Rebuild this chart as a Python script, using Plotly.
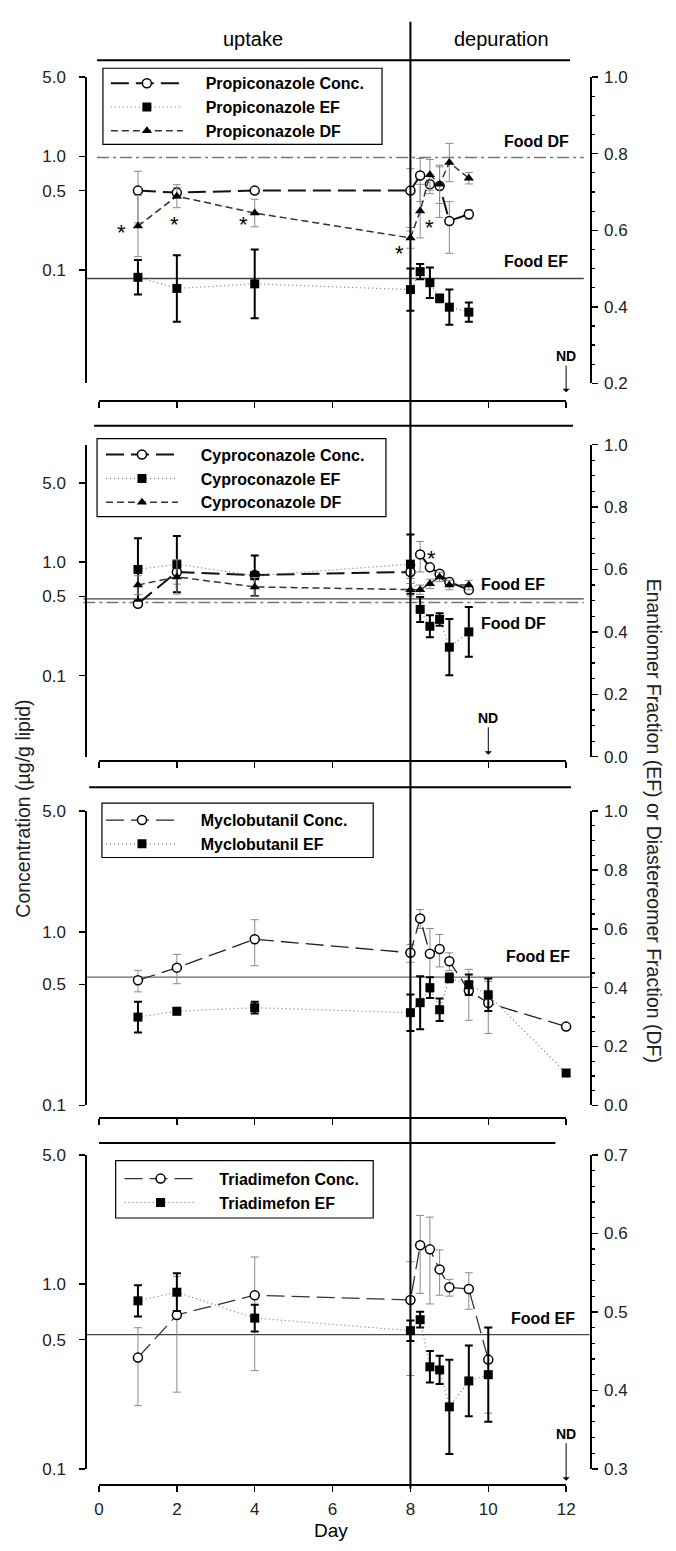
import math
import plotly.graph_objects as go

W, H = 676, 1551
def fx(p): return p / W
def fy(p): return 1 - p / H

FONT = "Liberation Sans, Arial, sans-serif"

# ---------------- data ----------------
# Panel 1: Propiconazole
days_prop = [1, 2, 4, 8, 8.25, 8.5, 8.75, 9, 9.5]
prop_conc = [0.50, 0.48, 0.50, 0.50, 0.68, 0.57, 0.55, 0.27, 0.31]
prop_conc_err = [0.24, 0.05, 0.03, 0.28, 0.28, 0.10, 0.26, 0.13, 0.03]
prop_ef = [0.477, 0.448, 0.46, 0.445, 0.492, 0.463, 0.422, 0.399, 0.386]
prop_ef_err = [0.045, 0.087, 0.09, 0.055, 0.02, 0.04, 0.01, 0.046, 0.025]
prop_df = [0.611, 0.689, 0.645, 0.58, 0.65, 0.745, 0.72, 0.777, 0.736]
prop_df_err = [0.08, 0.03, 0.036, 0.027, 0.07, 0.04, 0.05, 0.05, 0.015]
prop_food_ef = 0.474
prop_food_df = 0.79

# Panel 2: Cyproconazole
days_cypro = [1, 2, 4, 8, 8.25, 8.5, 8.75, 9, 9.5]
cypro_conc = [0.43, 0.82, 0.77, 0.82, 1.17, 0.90, 0.79, 0.67, 0.57]
cypro_conc_err = [0.03, 0.18, 0.05, 0.10, 0.35, 0.05, 0.04, 0.03, 0.03]
cypro_ef = [0.60, 0.617, 0.58, 0.617, 0.472, 0.418, 0.44, 0.351, 0.40]
cypro_ef_err = [0.10, 0.09, 0.065, 0.095, 0.04, 0.035, 0.02, 0.09, 0.08]
cypro_df = [0.55, 0.576, 0.544, 0.535, 0.535, 0.554, 0.576, 0.55, 0.55]
cypro_df_err = [0.03, 0.055, 0.03, 0.02, 0.015, 0.015, 0.015, 0.015, 0.015]
cypro_food_ef = 0.506
cypro_food_df = 0.494

# Panel 3: Myclobutanil
days_myclo = [1, 2, 4, 8, 8.25, 8.5, 8.75, 9, 9.5, 10, 12]
myclo_conc = [0.527, 0.624, 0.91, 0.76, 1.2, 0.75, 0.80, 0.68, 0.46, 0.39, 0.285]
myclo_conc_err = [0.075, 0.12, 0.27, 0.09, 0.15, 0.3, 0.17, 0.08, 0.15, 0.13, 0]
myclo_ef = [0.30, 0.32, 0.332, 0.315, 0.349, 0.40, 0.325, 0.433, 0.41, 0.376, 0.11]
myclo_ef_err = [0.052, 0.01, 0.02, 0.062, 0.09, 0.035, 0.038, 0.015, 0.035, 0.055, 0.01]
myclo_food_ef = 0.436

# Panel 4: Triadimefon
days_triad = [1, 2, 4, 8, 8.25, 8.5, 8.75, 9, 9.5, 10]
triad_conc = [0.40, 0.68, 0.87, 0.82, 1.62, 1.54, 1.20, 0.96, 0.94, 0.39]
triad_conc_err = [0.18, 0.42, 0.53, 0.5, 0.73, 0.76, 0.33, 0.1, 0.21, 0.19]
triad_ef = [0.514, 0.525, 0.492, 0.476, 0.49, 0.43, 0.426, 0.379, 0.412, 0.42]
triad_ef_err = [0.02, 0.024, 0.017, 0.013, 0.01, 0.02, 0.018, 0.06, 0.045, 0.06]
triad_food_ef = 0.471

conc_ticks = [0.1, 0.5, 1, 5]
conc_ticktext = ["0.1", "0.5", "1.0", "5.0"]
x_ticks = [0, 2, 4, 6, 8, 10, 12]

PAD = "\u00a0\u00a0\u00a0\u00a0"

# ---------------- traces ----------------
fig = go.Figure()

def conc_trace(name, days, vals, err, xa, ya, leg, lw=2.0, lc="#111"):
    return go.Scatter(
        x=days, y=vals, xaxis=xa, yaxis=ya, name=PAD + name, legend=leg,
        mode="lines+markers", cliponaxis=False,
        line=dict(color=lc, width=lw, dash="18px,7px"),
        marker=dict(symbol="circle", size=9, color="white",
                    line=dict(color="black", width=1.5)),
        error_y=dict(type="data", array=err, color="#8a8a8a", thickness=1, width=4),
    )

def ef_trace(name, days, vals, err, xa, ya, leg):
    return go.Scatter(
        x=days, y=vals, xaxis=xa, yaxis=ya, name=PAD + name, legend=leg,
        mode="lines+markers", cliponaxis=False,
        line=dict(color="#777", width=1.2, dash="1px,3px"),
        marker=dict(symbol="square", size=9, color="black"),
        error_y=dict(type="data", array=err, color="black", thickness=2, width=4),
    )

def df_trace(name, days, vals, err, xa, ya, leg):
    return go.Scatter(
        x=days, y=vals, xaxis=xa, yaxis=ya, name=PAD + name, legend=leg,
        mode="lines+markers", cliponaxis=False,
        line=dict(color="#333", width=1.5, dash="7px,4px"),
        marker=dict(symbol="triangle-up", size=9, color="black"),
        error_y=dict(type="data", array=err, color="#8a8a8a", thickness=1, width=4),
    )

fig.add_trace(conc_trace("Propiconazole Conc.", days_prop, prop_conc, prop_conc_err, "x", "y", "legend"))
fig.add_trace(ef_trace("Propiconazole EF", days_prop, prop_ef, prop_ef_err, "x", "y2", "legend"))
fig.add_trace(df_trace("Propiconazole DF", days_prop, prop_df, prop_df_err, "x", "y2", "legend"))

fig.add_trace(conc_trace("Cyproconazole Conc.", days_cypro, cypro_conc, cypro_conc_err, "x2", "y3", "legend2"))
fig.add_trace(ef_trace("Cyproconazole EF", days_cypro, cypro_ef, cypro_ef_err, "x2", "y4", "legend2"))
fig.add_trace(df_trace("Cyproconazole DF", days_cypro, cypro_df, cypro_df_err, "x2", "y4", "legend2"))

fig.add_trace(conc_trace("Myclobutanil Conc.", days_myclo, myclo_conc, myclo_conc_err, "x3", "y5", "legend3", lw=1.3, lc="#222"))
fig.add_trace(ef_trace("Myclobutanil EF", days_myclo, myclo_ef, myclo_ef_err, "x3", "y6", "legend3"))

fig.add_trace(conc_trace("Triadimefon Conc.", days_triad, triad_conc, triad_conc_err, "x4", "y7", "legend4", lw=1.3, lc="#333"))
fig.add_trace(ef_trace("Triadimefon EF", days_triad, triad_ef, triad_ef_err, "x4", "y8", "legend4"))

# ---------------- axes ----------------
L5 = math.log10(5)

panels = [
    dict(xpos=397, top=69, bot=379, lr=[-2, L5], rr=[0.2, 1.0], rd=0.2, rm=0.05, lab=False),
    dict(xpos=761, top=441, bot=757, lr=[-1.713, 1.035], rr=[0.0, 1.0], rd=0.2, rm=0.05, lab=False),
    dict(xpos=1123, top=812, bot=1110, lr=[-1, L5], rr=[0.0, 1.0], rd=0.2, rm=0.05, lab=False),
    dict(xpos=1494, top=1160, bot=1478, lr=[-1, L5], rr=[0.3, 0.7], rd=0.1, rm=0.02, lab=True),
]

tickfont = dict(size=17, color="#222", family=FONT)
layout_axes = {}
for i, p in enumerate(panels):
    xk = "xaxis" if i == 0 else f"xaxis{i+1}"
    lk = "yaxis" if i == 0 else f"yaxis{2*i+1}"
    rk = f"yaxis{2*i+2}"
    lname = "y" if i == 0 else f"y{2*i+1}"
    layout_axes[xk] = dict(
        domain=[fx(96), fx(573)], range=[0, 12], anchor="free", position=fy(p["xpos"]),
        showline=True, linecolor="black", linewidth=2, ticks="outside", ticklen=6,
        tickwidth=1.5, tickcolor="black", tickvals=x_ticks, showgrid=False, zeroline=False,
        showticklabels=p["lab"], tickfont=tickfont, ticklabelstandoff=3,
    )
    layout_axes[lk] = dict(
        domain=[fy(p["bot"]), fy(p["top"])], type="log", range=p["lr"], anchor="free",
        position=fx(83), side="left", showline=True, linecolor="black", linewidth=2,
        ticks="outside", ticklen=6, tickwidth=1.5, tickcolor="black",
        tickvals=conc_ticks, ticktext=conc_ticktext, tickfont=tickfont,
        ticklabelstandoff=10, showgrid=False, zeroline=False,
    )
    layout_axes[rk] = dict(
        overlaying=lname, side="right", anchor="free", position=fx(598),
        range=p["rr"], tick0=0, dtick=p["rd"], tickformat=".1f",
        showline=True, linecolor="black", linewidth=2, ticks="outside", ticklen=6,
        tickwidth=1.5, tickcolor="black", tickfont=tickfont, ticklabelstandoff=3,
        showgrid=False, zeroline=False,
        minor=dict(ticks="outside", dtick=p["rm"], tick0=0, ticklen=3,
                   tickwidth=1.2, tickcolor="black", showgrid=False),
    )

# ---------------- shapes ----------------
shapes = []
def hline_px(x0, x1, y, w=2, color="black"):
    shapes.append(dict(type="line", xref="paper", yref="paper", x0=fx(x0), x1=fx(x1),
                       y0=fy(y), y1=fy(y), line=dict(color=color, width=w)))

hline_px(94, 577, 52)
hline_px(91, 580, 422)
hline_px(86, 578, 788)
hline_px(96, 562, 1148)

shapes.append(dict(type="line", xref="x4", yref="paper", x0=8, x1=8,
                   y0=fy(1498), y1=fy(13), line=dict(color="black", width=2)))

def food_line(yref, val, x0, x1, dash, color, w):
    shapes.append(dict(type="line", xref="paper", yref=yref, x0=fx(x0), x1=fx(x1),
                       y0=val, y1=val, layer="below",
                       line=dict(color=color, width=w, dash=dash)))

food_line("y2", prop_food_ef, 83, 591, "solid", "#444", 1.3)
food_line("y2", prop_food_df, 94, 591, "12px,4px,3px,4px", "#777", 1.5)
food_line("y4", cypro_food_ef, 80, 591, "solid", "#444", 1.3)
food_line("y4", cypro_food_df, 80, 591, "12px,4px,3px,4px", "#777", 1.5)
food_line("y6", myclo_food_ef, 83, 600, "solid", "#666", 1.2)
food_line("y8", triad_food_ef, 83, 597, "solid", "#444", 1.2)

for (x0, y0, x1, y1) in [(100, 60, 385, 137), (94, 435, 389, 514),
                         (99, 804, 376, 859), (113, 1166, 376, 1224)]:
    shapes.append(dict(type="rect", xref="paper", yref="paper",
                       x0=fx(x0), x1=fx(x1), y0=fy(y1), y1=fy(y0),
                       line=dict(color="black", width=1.2), fillcolor="rgba(0,0,0,0)"))

# ---------------- annotations ----------------
ann = []
def text_px(t, x, y, size=19, bold=False, xanchor="center", angle=0, color="black"):
    ann.append(dict(text=t, x=fx(x), y=fy(y), xref="paper", yref="paper",
                    showarrow=False, xanchor=xanchor, yanchor="middle", textangle=angle,
                    font=dict(size=size, family=FONT, color=color,
                              weight="bold" if bold else "normal")))

text_px("uptake", 253, 30, size=20)
text_px("depuration", 507, 30, size=20)
text_px("Day", 333, 1540, size=19)
text_px("Concentration (µg/g lipid)", 18, 810, size=19.5, angle=-90, color="#222")
text_px("Enantiomer Fraction (EF) or Diastereomer Fraction (DF)", 663, 822, size=19.5, angle=90, color="#222")

text_px("Food DF", 508, 134, size=16, bold=True, xanchor="left")
text_px("Food EF", 508, 256, size=16, bold=True, xanchor="left")
text_px("Food EF", 484, 583, size=16, bold=True, xanchor="left")
text_px("Food DF", 484, 622, size=16, bold=True, xanchor="left")
text_px("Food EF", 510, 959, size=16, bold=True, xanchor="left")
text_px("Food EF", 515, 1326, size=16, bold=True, xanchor="left")

def nd(xref, xv, tip_y, ay):
    ann.append(dict(text="<b>ND</b>", xref=xref, x=xv, yref="paper", y=fy(tip_y),
                    showarrow=True, ax=0, ay=ay, arrowhead=1, arrowsize=1.2,
                    arrowwidth=1, arrowcolor="black",
                    font=dict(size=14, family=FONT, color="black")))

nd("x", 12, 388, -36)
nd("x2", 10, 755, -37)
nd("x4", 12, 1490, -47)

def star(xref, yref, xv, yv):
    ann.append(dict(text="*", xref=xref, yref=yref, x=xv, y=yv, showarrow=False,
                    yshift=-6, font=dict(size=22, family=FONT, color="black")))

star("x", "y2", 0.58, 0.611)
star("x", "y2", 1.94, 0.632)
star("x", "y2", 3.72, 0.63)
star("x", "y2", 7.72, 0.554)
star("x", "y2", 8.48, 0.624)
star("x2", "y4", 8.55, 0.655)
star("x3", "y6", 12.05, 0.057)

# ---------------- legends ----------------
def legend_cfg(x, y, iw):
    return dict(x=fx(x), y=fy(y), xanchor="left", yanchor="top",
                bgcolor="rgba(0,0,0,0)", borderwidth=0, itemwidth=iw,
                tracegroupgap=0,
                font=dict(size=16, family=FONT, color="black", weight="bold"))

fig.update_layout(
    width=W, height=H, autosize=False,
    margin=dict(l=0, r=0, t=0, b=0),
    paper_bgcolor="white", plot_bgcolor="rgba(0,0,0,0)",
    showlegend=True,
    legend=legend_cfg(103, 58, 72),
    legend2=legend_cfg(98, 434, 72),
    legend3=legend_cfg(98, 804, 72),
    legend4=legend_cfg(117, 1167, 72),
    shapes=shapes, annotations=ann,
    **layout_axes,
)

fig.write_html("out.html", config={"displayModeBar": False, "staticPlot": True},
               post_script="document.body.style.margin='0';")
